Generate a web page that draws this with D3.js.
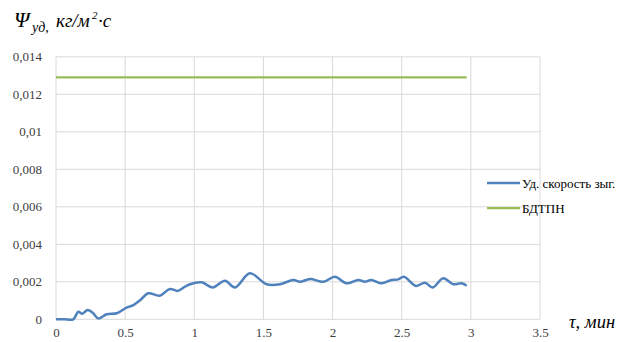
<!DOCTYPE html>
<html><head><meta charset="utf-8">
<script src="https://cdn.jsdelivr.net/npm/d3@7"></script>
<style>body{margin:0;background:#fff}svg{display:block}</style>
</head><body><svg id="c" width="641" height="342"></svg>
<script>
const xTicks = [0, 0.5, 1, 1.5, 2, 2.5, 3, 3.5];
const yTicks = [0, 0.002, 0.004, 0.006, 0.008, 0.01, 0.012, 0.014];
const seriesNames = ["Уд. скорость зыг.", "БДТПН"];
const tBlue = [0, 0.06, 0.125, 0.161, 0.19, 0.229, 0.265, 0.306, 0.366, 0.44, 0.51, 0.56, 0.61, 0.667, 0.75, 0.824, 0.88, 0.933, 0.969, 1.053, 1.133, 1.222, 1.294, 1.403, 1.523, 1.62, 1.716, 1.764, 1.837, 1.933, 2.017, 2.10, 2.186, 2.234, 2.28, 2.355, 2.427, 2.475, 2.516, 2.603, 2.668, 2.724, 2.8, 2.873, 2.933, 2.97];
const vBlue = [0, 0, 0, 0.0004, 0.0003, 0.0005, 0.00035, 0.00005, 0.00027, 0.00032, 0.00062, 0.00076, 0.00103, 0.00139, 0.00126, 0.00162, 0.00151, 0.00174, 0.00187, 0.00197, 0.0017, 0.00206, 0.0017, 0.00245, 0.00187, 0.00187, 0.0021, 0.002, 0.00215, 0.002, 0.00227, 0.00192, 0.0021, 0.002, 0.0021, 0.00192, 0.0021, 0.00213, 0.00227, 0.00178, 0.00195, 0.0017, 0.00219, 0.00187, 0.00192, 0.00179];
const tGreen = [0, 2.97];
const vGreen = [0.0129, 0.0129];

const FONT = "Liberation Serif";
const svg = d3.select("#c");
const x = d3.scaleLinear().domain([0, 3.5]).range([56, 540]);
const y = d3.scaleLinear().domain([0, 0.014]).range([319.3, 56.8]);

const grid = svg.append("g");
grid.selectAll("line.h").data(yTicks).join("line")
  .attr("x1", x(0)).attr("x2", x(3.5)).attr("y1", d => y(d)).attr("y2", d => y(d))
  .attr("stroke", "#d9d9d9").attr("stroke-width", 1);
grid.selectAll("line.v").data(xTicks).join("line")
  .attr("y1", y(0)).attr("y2", y(0.014)).attr("x1", d => x(d)).attr("x2", d => x(d))
  .attr("stroke", "#d9d9d9").attr("stroke-width", 1);

const yAxis = d3.axisLeft(y).tickValues(yTicks).tickSize(0).tickPadding(14)
  .tickFormat(d => d === 0 ? "0" : String(+d.toFixed(3)).replace(".", ","));
svg.append("g").attr("transform", `translate(${x(0)},0)`).call(yAxis)
  .attr("font-family", FONT).attr("font-size", 13)
  .call(g => g.select(".domain").remove())
  .selectAll("text").attr("fill", "#404040");

const xAxis = d3.axisBottom(x).tickValues(xTicks).tickSize(0).tickPadding(8)
  .tickFormat(d => String(d));
svg.append("g").attr("transform", `translate(0,${y(0)})`).call(xAxis)
  .attr("font-family", FONT).attr("font-size", 13)
  .call(g => g.select(".domain").remove())
  .selectAll("text").attr("fill", "#404040");

const line = d3.line().x(d => x(d[0])).y(d => y(d[1])).curve(d3.curveCatmullRom.alpha(0.5));
svg.append("path").datum(tGreen.map((t, i) => [t, vGreen[i]])).attr("d", d3.line().x(d => x(d[0])).y(d => y(d[1])))
  .attr("fill", "none").attr("stroke", "#9bbb59").attr("stroke-width", 2.25);
svg.append("path").datum(tBlue.map((t, i) => [t, vBlue[i]])).attr("d", line)
  .attr("fill", "none").attr("stroke", "#4f81bd").attr("stroke-width", 2.5).attr("stroke-linejoin", "round");

// legend
const leg = svg.append("g").attr("font-family", FONT).attr("font-size", 13);
const colors = ["#4f81bd", "#9bbb59"];
seriesNames.forEach((n, i) => {
  const yy = 183 + i * 25;
  leg.append("line").attr("x1", 487).attr("x2", 520).attr("y1", yy).attr("y2", yy)
    .attr("stroke", colors[i]).attr("stroke-width", i === 0 ? 2.5 : 2.25);
  leg.append("text").attr("x", 522).attr("y", yy + 4.5).attr("fill", "#000").text(n);
});

// y title
const yt = svg.append("text").attr("y", 27).attr("font-style", "italic").attr("fill", "#000").attr("font-family", FONT);
yt.append("tspan").attr("x", 14).attr("font-size", 22).text("Ψ");
yt.append("tspan").attr("x", 32).attr("y", 32).attr("font-size", 14).text("уд,");
yt.append("tspan").attr("x", 56).attr("y", 27).attr("font-size", 19).text("кг/м");
yt.append("tspan").attr("x", 92).attr("y", 19).attr("font-size", 11).text("2");
yt.append("tspan").attr("x", 98).attr("y", 27).attr("font-size", 19).text("·с");

// x title
svg.append("text").attr("x", 569).attr("y", 328).attr("font-style", "italic").attr("font-size", 18.5).attr("fill", "#000")
  .attr("font-family", FONT).text("τ, мин");
</script></body></html>
